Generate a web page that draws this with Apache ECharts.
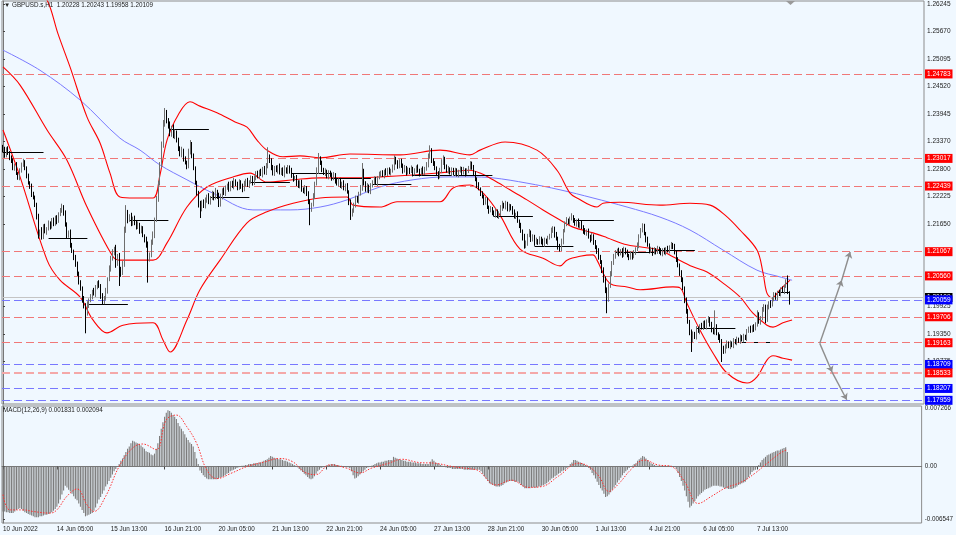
<!DOCTYPE html>
<html>
<head>
<meta charset="utf-8">
<script src="https://cdn.jsdelivr.net/npm/echarts@6/dist/echarts.min.js"></script>
<style>
html,body{margin:0;padding:0;background:#F0F8FF;}
#c{width:956px;height:535px;}
</style>
</head>
<body>
<div id="c"></div>
<script>
// ---------- DATA (GBPUSD H1, bar index 0 = 10 Jun 2022 21:00) ----------
const timeTickBars = [0,32,64,96,128,160,192,224,256,288,320,352,384,416,448];
const timeLabels = ['10 Jun 2022','14 Jun 05:00','15 Jun 13:00','16 Jun 21:00','20 Jun 05:00','21 Jun 13:00','22 Jun 21:00','24 Jun 05:00','27 Jun 13:00','28 Jun 21:00','30 Jun 05:00','1 Jul 13:00','4 Jul 21:00','6 Jul 05:00','7 Jul 13:00'];
const priceTicks = [1.26245,1.25670,1.25095,1.24520,1.23945,1.23370,1.22800,1.22225,1.21650,1.19925,1.19350,1.18775];
const macdTicks = [0.007266,0,-0.006547];

const firstOpen = 1.2325;
const closes = [
1.2318,1.2309,1.2321,1.2312,1.2305,1.2296,1.2282,1.2287,1.2270,1.2262,
1.2276,1.2289,1.2295,1.2280,1.2266,1.2251,1.2243,1.2228,1.2219,1.2205,
1.2180,1.2142,1.2150,1.2138,1.2160,1.2148,1.2155,1.2166,1.2158,1.2172,
1.2165,1.2178,1.2170,1.2186,1.2192,1.2200,1.2188,1.2162,1.2140,1.2148,
1.2121,1.2108,1.2094,1.2082,1.2060,1.2044,1.2030,1.2008,1.1994,1.1978,
1.1995,1.2005,1.2012,1.2024,1.2018,1.2032,1.2041,1.2036,1.2015,1.2002,
1.2010,1.2025,1.2048,1.2070,1.2092,1.2105,1.2112,1.2085,1.2098,1.2070,
1.2064,1.2080,1.2150,1.2188,1.2172,1.2180,1.2165,1.2176,1.2168,1.2158,
1.2163,1.2150,1.2155,1.2140,1.2132,1.2120,1.2092,1.2100,1.2125,1.2140,
1.2172,1.2215,1.2250,1.2285,1.2330,1.2372,1.2395,1.2380,1.2370,1.2352,
1.2365,1.2348,1.2356,1.2338,1.2322,1.2310,1.2318,1.2300,1.2292,1.2285,
1.2315,1.2330,1.2308,1.2280,1.2252,1.2228,1.2205,1.2196,1.2210,1.2202,
1.2215,1.2222,1.2210,1.2218,1.2228,1.2220,1.2233,1.2225,1.2205,1.2222,
1.2235,1.2228,1.2240,1.2246,1.2238,1.2250,1.2243,1.2255,1.2248,1.2240,
1.2252,1.2244,1.2236,1.2248,1.2256,1.2246,1.2252,1.2260,1.2250,1.2262,
1.2270,1.2264,1.2275,1.2268,1.2280,1.2272,1.2285,1.2305,1.2298,1.2282,
1.2270,1.2282,1.2276,1.2285,1.2272,1.2278,1.2268,1.2280,1.2274,1.2283,
1.2276,1.2265,1.2258,1.2262,1.2250,1.2244,1.2252,1.2238,1.2232,1.2240,
1.2228,1.2210,1.2196,1.2205,1.2222,1.2248,1.2275,1.2300,1.2292,1.2278,
1.2270,1.2275,1.2264,1.2272,1.2266,1.2260,1.2268,1.2255,1.2248,1.2256,
1.2244,1.2250,1.2238,1.2245,1.2232,1.2210,1.2185,1.2192,1.2205,1.2218,
1.2212,1.2228,1.2240,1.2275,1.2250,1.2236,1.2244,1.2232,1.2245,1.2252,
1.2258,1.2250,1.2262,1.2268,1.2272,1.2266,1.2275,1.2270,1.2278,1.2271,
1.2276,1.2283,1.2300,1.2292,1.2285,1.2296,1.2288,1.2275,1.2282,1.2272,
1.2278,1.2274,1.2281,1.2270,1.2276,1.2283,1.2275,1.2270,1.2279,1.2273,
1.2280,1.2288,1.2305,1.2318,1.2298,1.2290,1.2282,1.2270,1.2264,1.2276,
1.2292,1.2300,1.2285,1.2275,1.2280,1.2272,1.2278,1.2270,1.2276,1.2268,
1.2275,1.2280,1.2272,1.2278,1.2270,1.2276,1.2282,1.2290,1.2284,1.2270,
1.2258,1.2246,1.2238,1.2228,1.2222,1.2210,1.2215,1.2200,1.2192,1.2196,
1.2188,1.2184,1.2192,1.2180,1.2186,1.2198,1.2205,1.2200,1.2208,1.2195,
1.2202,1.2196,1.2190,1.2180,1.2185,1.2170,1.2162,1.2150,1.2138,1.2118,
1.2125,1.2140,1.2148,1.2132,1.2138,1.2125,1.2130,1.2126,1.2134,1.2128,
1.2122,1.2131,1.2127,1.2135,1.2140,1.2150,1.2155,1.2142,1.2135,1.2118,
1.2112,1.2128,1.2150,1.2165,1.2172,1.2168,1.2175,1.2180,1.2172,1.2165,
1.2170,1.2160,1.2166,1.2158,1.2150,1.2145,1.2150,1.2138,1.2132,1.2140,
1.2126,1.2116,1.2108,1.2095,1.2085,1.2068,1.2050,1.2025,1.2008,1.2035,
1.2060,1.2082,1.2098,1.2104,1.2110,1.2102,1.2108,1.2100,1.2112,1.2106,
1.2098,1.2094,1.2102,1.2096,1.2105,1.2112,1.2120,1.2138,1.2152,1.2160,
1.2145,1.2132,1.2120,1.2108,1.2112,1.2104,1.2110,1.2106,1.2114,1.2108,
1.2102,1.2110,1.2105,1.2113,1.2108,1.2116,1.2122,1.2118,1.2104,1.2090,
1.2078,1.2062,1.2048,1.2030,1.2005,1.1982,1.1960,1.1938,1.1922,1.1935,
1.1928,1.1945,1.1940,1.1952,1.1948,1.1958,1.1950,1.1962,1.1966,1.1955,
1.1944,1.1938,1.1950,1.1935,1.1928,1.1920,1.1905,1.1898,1.1910,1.1915,
1.1908,1.1916,1.1911,1.1920,1.1916,1.1924,1.1920,1.1928,1.1922,1.1930,
1.1926,1.1940,1.1946,1.1942,1.1950,1.1945,1.1955,1.1975,1.1960,1.1968,
1.1985,1.1992,1.1965,1.1990,1.2000,1.1995,1.2008,1.2016,1.2010,1.2022,
1.2018,1.2028,1.2024,1.2035,1.2045,1.2023,1.2011
];
// upper / lower wick length of each bar, in pips
const wickUpPips = [
5,8,4,6,5,3,6,4,7,3, 5,4,6,3,5,4,3,6,4,5, 4,6,3,8,4,5,3,6,4,5, 6,4,5,3,6,7,4,5,6,3,
5,4,3,6,4,5,3,4,6,5, 8,4,6,3,7,5,4,6,3,5, 4,6,5,8,6,7,5,9,4,6, 5,7,9,16,6,5,8,4,6,5,
7,4,6,5,3,6,8,5,7,9, 6,8,5,9,7,10,12,8,6,9, 5,8,6,4,7,5,8,4,6,5, 7,10,6,4,5,3,6,8,4,6,
5,4,7,5,6,4,7,3,5,6, 4,6,5,3,7,4,5,6,3,5, 6,4,5,7,3,5,4,6,5,4, 5,6,3,5,4,6,7,20,5,4,
6,4,5,3,6,4,5,7,3,5, 4,6,5,3,5,6,4,5,3,6, 4,5,6,4,7,5,8,13,6,5, 4,6,3,5,4,6,5,3,6,4,
5,3,6,4,5,3,6,5,4,6, 5,4,6,17,5,4,6,3,5,4, 6,5,3,6,4,5,3,6,4,5, 4,6,8,5,6,4,5,3,6,4,
5,4,6,3,5,4,6,5,3,6, 4,6,7,11,5,4,6,3,5,6, 8,8,5,4,6,3,5,4,6,5, 3,5,4,6,3,5,4,6,5,4,
5,4,6,3,5,4,6,5,3,6, 4,5,6,3,5,6,8,4,5,3, 5,4,6,5,3,6,4,5,3,6, 5,4,6,3,5,4,6,3,5,4,
6,5,3,5,4,7,5,4,6,3, 5,6,4,5,7,4,5,7,3,5, 4,6,3,5,4,6,3,5,4,6, 3,5,4,6,5,4,6,5,7,5,
6,5,4,6,3,5,4,6,5,3, 5,4,6,3,5,4,6,5,4,6, 5,3,6,4,5,3,6,4,5,3, 6,4,5,3,6,4,5,3,5,4,
5,4,6,5,4,6,5,4,6,5, 4,6,5,3,6,4,5,3,6,4, 5,4,34,5,3,6,4,5,3,6, 4,5,3,6,4,5,3,6,4,5,
3,5,4,6,3,5,4,9,5,4, 6,5,4,6,3,5,4,6,5,3, 5,4,6,3,4,12,1
];
const wickDownPips = [
4,6,5,3,7,4,5,6,3,5, 6,4,5,3,6,4,5,7,3,5, 6,8,4,6,5,3,6,4,5,3, 5,4,6,3,5,4,6,3,5,4,
6,4,5,7,4,6,5,8,6,42, 5,6,4,5,3,6,4,5,7,6, 5,4,6,3,5,4,6,12,8,35, 10,6,5,4,6,3,5,4,6,5,
4,6,5,3,6,5,50,6,5,4, 5,3,4,5,3,6,4,5,6,4, 5,4,6,3,5,4,6,5,3,6, 4,5,6,3,5,4,6,19,5,4,
5,6,4,5,3,6,4,8,5,4, 6,3,5,4,6,5,3,6,4,5, 4,6,5,3,5,4,6,3,5,4, 6,4,5,3,6,4,5,4,6,5,
4,5,3,6,4,5,3,6,4,5, 6,4,5,3,6,4,5,6,3,5, 5,4,34,6,4,5,3,6,4,5, 3,5,4,6,3,5,4,6,3,5,
4,6,3,5,4,6,12,5,4,6, 3,5,4,6,5,4,6,3,5,4, 5,3,6,4,5,3,6,4,5,3, 5,4,6,3,5,4,6,5,3,6,
4,5,3,6,4,5,3,6,4,5, 6,4,5,3,6,4,5,3,6,4, 5,4,6,3,5,4,6,3,5,4, 6,3,5,4,6,3,5,4,6,5,
4,6,3,5,4,6,5,4,6,3, 5,4,6,3,5,4,6,3,5,4, 5,3,6,4,5,3,6,4,8,5, 4,6,3,5,4,6,3,5,4,6,
3,5,4,6,3,5,4,6,5,7, 5,4,6,3,5,4,6,3,5,4, 6,3,5,4,6,3,5,4,6,3, 5,4,6,5,4,6,8,5,30,6,
4,5,3,6,4,5,3,6,4,5, 3,5,4,6,3,5,4,6,3,5, 4,6,3,5,4,6,3,5,4,6, 3,5,4,6,3,5,4,6,3,5,
4,6,5,4,6,5,4,6,25,5, 4,5,3,6,4,5,3,6,4,5, 6,4,5,3,6,4,29,5,4,6, 3,5,4,6,3,5,4,6,3,5,
4,6,3,5,4,6,3,5,4,6, 5,4,8,5,4,6,3,5,4,6, 4,5,3,6,4,5,15
];

// Bollinger bands and moving average, read as [bar, price] vertices
const bbUpper = [[0,1.2650],[10,1.2648],[20,1.2650],[26.1,1.2633],[32.6,1.2562],[39.7,1.2493],[49.8,1.2388],[57.5,1.2334],[63.4,1.2271],[69.3,1.2221],[78.2,1.2219],[88.9,1.2219],[93,1.2267],[97.2,1.2340],[103.7,1.2392],[110.8,1.2420],[116.7,1.2411],[126.8,1.2397],[137.5,1.2378],[144.6,1.2367],[150.5,1.2340],[156.4,1.2319],[165.9,1.2305],[176,1.2307],[187.9,1.2303],[205.6,1.2311],[235.3,1.2309],[259,1.2319],[276.7,1.2309],[282.7,1.2319],[297.5,1.2336],[316.4,1.2319],[328.3,1.2277],[336,1.2229],[340.1,1.2219],[352,1.2200],[355.6,1.2208],[365.6,1.2210],[389.3,1.2204],[407.1,1.2208],[419,1.2204],[427.9,1.2183],[436.7,1.2152],[446.8,1.2110],[450.4,1.2062],[452.7,1.2020],[455.7,1.2010],[460.4,1.2027],[466.4,1.2047]];
const bbMiddle = [[0,1.2493],[10.1,1.2455],[26.1,1.2361],[37.9,1.2298],[49.8,1.2200],[65.2,1.2096],[69.3,1.2089],[88.9,1.2089],[97.2,1.2125],[109,1.2200],[120.9,1.2242],[136.3,1.2263],[146.4,1.2271],[156.4,1.2252],[171.9,1.2257],[187.9,1.2261],[203.9,1.2261],[223.4,1.2263],[243,1.2267],[263.1,1.2273],[276.7,1.2277],[282.7,1.2271],[290.4,1.2257],[300.4,1.2236],[310.5,1.2215],[320,1.2194],[330.1,1.2173],[337.8,1.2158],[349.6,1.2146],[357.9,1.2136],[369.8,1.2121],[389.3,1.2110],[397,1.2096],[408.9,1.2075],[417.2,1.2064],[426.7,1.2041],[436.7,1.2012],[444.4,1.1978],[452.7,1.1953],[456.3,1.1949],[462.2,1.1958],[467.6,1.1964]];
const bbLower = [[0,1.2361],[10.1,1.2263],[26.1,1.2089],[33.8,1.2047],[45.6,1.2012],[53.3,1.1964],[61.6,1.1937],[71.1,1.1953],[88.9,1.1958],[94.8,1.1922],[99,1.1897],[109,1.1964],[116.7,1.2027],[128.6,1.2089],[144.6,1.2167],[156.4,1.2190],[171.9,1.2208],[187.9,1.2219],[203.9,1.2221],[207.4,1.2204],[223.4,1.2200],[233.5,1.2211],[259,1.2211],[266.7,1.2240],[276.7,1.2246],[285.6,1.2225],[294.5,1.2183],[306.4,1.2112],[320,1.2093],[330.1,1.2077],[334.2,1.2089],[341.9,1.2097],[349.6,1.2100],[352,1.2089],[357.9,1.2047],[361.5,1.2037],[369.8,1.2033],[377.5,1.2027],[397,1.2033],[401.2,1.2031],[405.3,1.1999],[413,1.1943],[420.7,1.1895],[429,1.1853],[440.9,1.1832],[446.8,1.1845],[452.7,1.1880],[456.3,1.1889],[462.2,1.1884],[467.6,1.1880]];
const maLine = [[0,1.2528],[21.9,1.2486],[45.6,1.2424],[69.3,1.2344],[81.2,1.2319],[93,1.2288],[109,1.2257],[124.4,1.2229],[148.1,1.2194],[170.1,1.2194],[187.9,1.2200],[203.9,1.2215],[223.4,1.2242],[243,1.2257],[263.1,1.2263],[276.7,1.2263],[290.4,1.2261],[310.5,1.2250],[330.1,1.2236],[349.6,1.2219],[369.8,1.2200],[389.3,1.2179],[407.1,1.2152],[426.7,1.2110],[446.8,1.2068],[460.4,1.2054],[467.6,1.2047]];

// daily open segments [startBar, endBar, price]
const dailyOpens = [[0,24,1.2315],[27,50,1.2135],[51,74,1.1997],[75,98,1.2173],[99,122,1.2363],[123,146,1.2221],[147,170,1.2252],[171,194,1.2271],[195,218,1.2260],[219,242,1.2248],[243,266,1.2267],[267,290,1.2267],[291,314,1.2181],[315,338,1.2119],[339,362,1.2173],[363,386,1.2106],[387,410,1.2110],[411,434,1.1947],[435,458,1.1918],[459,466,1.2022]];

// horizontal levels
const levelPrices = [1.24783,1.23017,1.22439,1.21067,1.20560,1.20059,1.19706,1.19163,1.18709,1.18533,1.18207,1.17959];
const levelKinds  = ['r','r','r','r','r','b','r','r','b','p','b','b'];
const bidPrice = 1.20109;

// projection arrows [[bar, price] ...]
const arrowUp = [[484,1.1915],[497,1.2047],[502,1.2106]];
const arrowDown = [[484,1.1915],[491.3,1.1855],[500,1.1797]];

// MACD(12,26,9) main (histogram), in units of 0.0001
const macdHistE4 = [
-56,-56,-57,-57,-58,-58,-58,-56,-54,-53, -52,-53,-55,-57,-58,-59,-60,-61,-62,-63,
-63,-63,-62,-62,-61,-60,-60,-59,-58,-57, -55,-53,-50,-46,-41,-35,-30,-24,-26,-29,
-31,-34,-37,-40,-42,-46,-50,-54,-58,-62, -61,-60,-59,-58,-55,-51,-46,-41,-38,-34,
-30,-25,-22,-18,-14,-10,-6,-3,0,3, 7,10,14,18,22,25,29,32,31,30,
29,28,26,24,22,19,18,17,15,14, 16,22,29,38,47,55,62,67,70,69,
67,64,62,59,54,50,47,44,40,36, 33,30,28,25,18,10,3,-5,-8,-11,
-13,-15,-16,-16,-16,-16,-16,-16,-15,-14, -13,-12,-11,-9,-8,-6,-5,-4,-3,-2,
-1,0,1,1,2,2,3,3,3,4, 4,4,5,5,6,7,8,9,11,13,
12,11,10,10,9,9,8,7,7,6, 5,4,3,2,1,-1,-3,-5,-7,-9,
-11,-13,-15,-16,-15,-12,-9,-6,-4,-2, -1,0,1,2,2,3,3,3,2,2,
1,1,0,0,-1,-1,-2,-6,-11,-15, -14,-12,-10,-8,-6,-4,-2,-1,0,1,
2,3,4,5,5,6,6,7,7,8, 8,8,12,11,10,9,8,8,7,7,
6,6,6,5,5,5,4,4,4,3, 3,3,3,3,6,9,7,5,4,3,
2,1,0,-1,-2,-2,-2,-3,-3,-3, -3,-3,-3,-3,-4,-4,-4,-4,-4,-4,
-4,-4,-4,-4,-6,-9,-12,-15,-18,-21, -22,-23,-24,-25,-25,-25,-24,-23,-21,-20,
-19,-18,-18,-18,-19,-19,-19,-21,-23,-25, -27,-27,-27,-27,-26,-26,-26,-26,-25,-25,
-24,-23,-22,-21,-19,-17,-15,-14,-12,-11, -9,-8,-6,-5,-4,-2,0,3,5,8,
8,7,6,5,4,3,2,0,-2,-4, -8,-11,-15,-19,-23,-27,-30,-34,-38,-37,
-35,-32,-29,-26,-23,-20,-17,-14,-11,-8, -6,-4,-2,0,1,3,4,7,9,11,
13,12,10,8,6,4,3,2,1,1, 1,1,0,0,0,0,1,1,0,0,
-3,-8,-13,-18,-24,-30,-37,-44,-51,-49, -46,-43,-40,-37,-35,-33,-31,-29,-28,-27,
-26,-25,-24,-24,-24,-24,-25,-25,-26,-27, -27,-28,-28,-28,-27,-26,-25,-23,-22,-21,
-20,-19,-16,-13,-10,-7,-5,-4,-1,2, 5,8,10,12,14,15,16,17,18,19,
20,20,21,22,23,24,18
];
// MACD signal line vertices [bar, value*1e4]
const macdSignalE4 = [[0,-35],[4,-54],[12,-54],[18,-56],[28,-58],[32,-54],[38,-37],[44,-28],[50,-48],[54,-56],[61,-37],[69,0],[77,23],[83,28],[91,21],[97,58],[103,64],[109,50],[115,29],[121,-4],[127,-15],[136,-8],[145,0],[156,6],[164,10],[172,6],[180,-8],[186,-10],[194,2],[204,-2],[212,-8],[219,-2],[229,4],[237,9],[247,5],[257,4],[267,0],[281,-4],[283,-6],[293,-23],[302,-17],[312,-26],[320,-25],[330,-12],[342,4],[348,0],[354,-12],[360,-31],[366,-21],[373,-4],[381,8],[389,2],[397,0],[405,-19],[413,-46],[421,-37],[429,-27],[439,-19],[447,-8],[454,4],[462,17],[466,21]];

// ---------- BUILD ----------
const PIP = 0.0001;
const candleData = closes.map((c, i) => {
  const o = i === 0 ? firstOpen : closes[i - 1];
  const h = Math.max(o, c) + wickUpPips[i] * PIP;
  const l = Math.min(o, c) - wickDownPips[i] * PIP;
  return [i, o, c, l, h];
});
const histData = macdHistE4.map((v, i) => [i, v / 10000]);
const sigData = macdSignalE4.map(([b, v]) => [b, v / 10000]);

const FONT = 'Liberation Sans, Arial, DejaVu Sans, sans-serif';
const PX_PER_BAR = 1.6875;
const X_MIN = -0.6;
const X_MAX = X_MIN + 922 / PX_PER_BAR;

const levelColor = {r:'#f07878', b:'#7878ff', p:'#f4a8a8'};
const levelBg = {r:'#ff0000', b:'#0000ff', p:'#ff0000'};

const chart = echarts.init(document.getElementById('c'), null, {renderer:'canvas'});
chart.setOption({
  animation: false,
  backgroundColor: '#F0F8FF',
  textStyle: {fontFamily: FONT},
  grid: [
    {left:2, right:32, top:1, height:403, show:true, borderColor:'#8c8c8c', borderWidth:1, backgroundColor:'transparent'},
    {left:2, right:32, top:406, height:117, show:true, borderColor:'#8c8c8c', borderWidth:1, backgroundColor:'transparent'}
  ],
  xAxis: [
    {gridIndex:0, type:'value', min:X_MIN, max:X_MAX, axisLine:{show:false}, axisTick:{show:false}, axisLabel:{show:false}, splitLine:{show:false}},
    {gridIndex:1, type:'value', min:X_MIN, max:X_MAX,
     axisLine:{show:true, lineStyle:{color:'#777'}},
     axisTick:{show:true, length:3, customValues: timeTickBars, lineStyle:{color:'#444'}},
     axisLabel:{customValues: timeTickBars, formatter: v => timeLabels[timeTickBars.indexOf(v)] || '', align:'left', fontSize:6.3, color:'#222', margin:3, fontFamily:FONT},
     splitLine:{show:false}}
  ],
  yAxis: [
    {gridIndex:0, type:'value', position:'right', min:1.17882, max:1.26308, scale:true,
     axisLine:{show:true, lineStyle:{color:'#777'}},
     axisTick:{show:true, length:2, customValues: priceTicks, lineStyle:{color:'#444'}},
     axisLabel:{customValues: priceTicks, formatter: v => v.toFixed(5), fontSize:6.5, color:'#222', margin:3, fontFamily:FONT},
     splitLine:{show:false}},
    {gridIndex:1, type:'value', position:'right', min:-0.007031, max:0.007528,
     axisLine:{show:true, lineStyle:{color:'#777'}},
     axisTick:{show:true, length:2, customValues: macdTicks, lineStyle:{color:'#444'}},
     axisLabel:{customValues: macdTicks, formatter: v => (Math.abs(v) < 1e-9 ? '0.00' : v.toFixed(6)), fontSize:6.3, color:'#222', margin:3, fontFamily:FONT},
     splitLine:{show:false}}
  ],
  series: [
    {type:'line', name:'bid', xAxisIndex:0, yAxisIndex:0, data:[], z:1,
     markLine:{silent:true, symbol:'none', animation:false, precision:5,
       data:[{yAxis: bidPrice, lineStyle:{color:'#c4c4c4', type:'solid', width:1},
              label:{show:true, position:'end', formatter: bidPrice.toFixed(5), color:'#fff', backgroundColor:'#000', padding:[1,2,0,2], fontSize:6.5, lineHeight:8, distance:1, fontFamily:FONT}}]}},
    {type:'line', name:'levels', xAxisIndex:0, yAxisIndex:0, data:[], z:2,
     markLine:{silent:true, symbol:'none', animation:false, precision:5,
       data: levelPrices.map((p, k) => ({
         yAxis: p,
         lineStyle:{color: levelColor[levelKinds[k]], type:[8,4], width: levelKinds[k] === 'p' ? 2 : 1},
         label:{show:true, position:'end', formatter: p.toFixed(5), color:'#fff', backgroundColor: levelBg[levelKinds[k]], padding:[1,2,0,2], fontSize:6.5, lineHeight:8, distance:1, fontFamily:FONT}
       }))}},
    {type:'line', name:'MA', xAxisIndex:0, yAxisIndex:0, data: maLine, smooth:0.35, symbol:'none', z:3,
     lineStyle:{color:'#7a7aff', width:1}},
    {type:'line', name:'BB upper', xAxisIndex:0, yAxisIndex:0, data: bbUpper, smooth:0.35, symbol:'none', z:3,
     lineStyle:{color:'#ff0000', width:1.1}},
    {type:'line', name:'BB middle', xAxisIndex:0, yAxisIndex:0, data: bbMiddle, smooth:0.35, symbol:'none', z:3,
     lineStyle:{color:'#ff0000', width:1.1}},
    {type:'line', name:'BB lower', xAxisIndex:0, yAxisIndex:0, data: bbLower, smooth:0.35, symbol:'none', z:3,
     lineStyle:{color:'#ff0000', width:1.1}},
    {type:'lines', name:'daily open', coordinateSystem:'cartesian2d', xAxisIndex:0, yAxisIndex:0, z:4, silent:true,
     lineStyle:{color:'#000', width:1, opacity:1},
     data: dailyOpens.map(([a, b, p]) => ({coords:[[a, p], [b, p]]}))},
    {type:'candlestick', name:'GBPUSD', xAxisIndex:0, yAxisIndex:0, data: candleData, z:5,
     encode:{x:0, y:[1,2,3,4]}, barWidth:1.2,
     itemStyle:{color:'#8e8e8e', color0:'#000000', borderColor:'#6e6e6e', borderColor0:'#000000', borderColorDoji:'#555', borderWidth:1}},
    {type:'line', name:'arrows', xAxisIndex:0, yAxisIndex:0, data:[], z:6,
     markLine:{silent:true, animation:false, precision:5, symbol:['none','arrow'], symbolSize:6,
       lineStyle:{color:'#8e8e8e', width:1.4, type:'solid'}, label:{show:false},
       data:[
         [{coord: arrowUp[0]}, {coord: arrowUp[1]}],
         [{coord: arrowUp[1]}, {coord: arrowUp[2]}],
         [{coord: arrowDown[0]}, {coord: arrowDown[1]}],
         [{coord: arrowDown[1]}, {coord: arrowDown[2]}]
       ]}},
    {type:'bar', name:'MACD', xAxisIndex:1, yAxisIndex:1, data: histData, barWidth:1.1, z:2,
     itemStyle:{color:'#7c7c7c'}},
    {type:'line', name:'Signal', xAxisIndex:1, yAxisIndex:1, data: sigData, smooth:0.4, symbol:'none', z:3,
     lineStyle:{color:'#ff3030', width:1, type:[1.5,1.5]}}
  ],
  graphic: [
    {type:'text', left:4, top:2, z:10, style:{text:'▼ GBPUSD.s,H1  1.20228 1.20243 1.19958 1.20109', font:'6.3px ' + FONT, fill:'#222'}},
    {type:'text', left:3, top:407, z:10, style:{text:'MACD(12,26,9) 0.001831 0.002094', font:'6.3px ' + FONT, fill:'#222'}},
    {type:'polygon', z:10, shape:{points:[[786,1],[795,1],[790.5,5]]}, style:{fill:'#9a9a9a'}}
  ]
});
</script>
</body>
</html>
